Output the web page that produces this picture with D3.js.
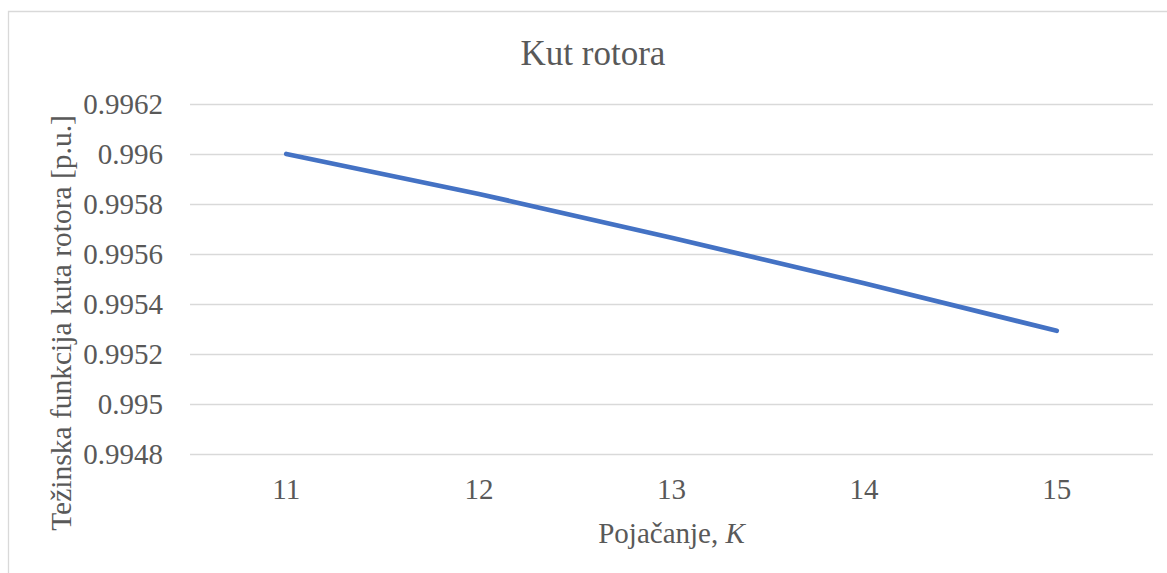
<!DOCTYPE html>
<html>
<head>
<meta charset="utf-8">
<script src="https://cdn.jsdelivr.net/npm/d3@7/dist/d3.min.js"></script>
<style>
  html, body { margin: 0; padding: 0; background: #fff; }
  svg { display: block; }
  svg text { fill: #595959; }
</style>
</head>
<body>
<svg id="chart" width="1167" height="573"></svg>
<script>
// Weighting function of rotor angle vs. gain K
const categories = ["11", "12", "13", "14", "15"];
const values = [0.99600, 0.99584, 0.995665, 0.995483, 0.995293];
const yTicks = [0.9948, 0.995, 0.9952, 0.9954, 0.9956, 0.9958, 0.996, 0.9962];
const yTickLabels = ["0.9948", "0.995", "0.9952", "0.9954", "0.9956", "0.9958", "0.996", "0.9962"];

const FONT = "'Liberation Serif', 'Tinos', 'Noto Serif', 'DejaVu Serif', 'FreeSerif', 'Nimbus Roman', 'Times New Roman', Times, serif";

const svg = d3.select("#chart");
const W = 1167, H = 573;
const plot = { left: 190, right: 1153, top: 104, bottom: 454 };

// Chart frame (only left and top edges fall inside the canvas)
svg.append("path")
  .attr("d", `M8.5,${H} L8.5,11.5 L${W},11.5`)
  .attr("fill", "none")
  .attr("stroke", "#D9D9D9")
  .attr("stroke-width", 1.3);

const x = d3.scaleBand().domain(categories).range([plot.left, plot.right]).paddingInner(0).paddingOuter(0);
const y = d3.scaleLinear().domain([0.9948, 0.9962]).range([plot.bottom, plot.top]);

// Horizontal gridlines
svg.append("g")
  .selectAll("line")
  .data(yTicks)
  .join("line")
  .attr("x1", plot.left).attr("x2", plot.right)
  .attr("y1", d => Math.round(y(d)) + 0.5).attr("y2", d => Math.round(y(d)) + 0.5)
  .attr("stroke", "#D9D9D9")
  .attr("stroke-width", 1.4);

// Y axis tick labels
const yAxis = d3.axisLeft(y)
  .tickValues(yTicks)
  .tickFormat((d, i) => yTickLabels[i])
  .tickSize(0)
  .tickPadding(27);
const gy = svg.append("g").attr("transform", `translate(${plot.left},0)`).call(yAxis)
  .attr("font-family", null);
gy.select(".domain").remove();
gy.selectAll("text")
  .style("font-family", FONT)
  .style("font-size", "29px")
  .attr("fill", "#595959")
  .attr("dy", "0.32em");

// X axis category labels
const xAxis = d3.axisBottom(x).tickSize(0).tickPadding(0);
const gx = svg.append("g").attr("transform", `translate(0,${plot.bottom})`).call(xAxis)
  .attr("font-family", null);
gx.select(".domain").remove();
gx.selectAll("text")
  .style("font-family", FONT)
  .style("font-size", "29px")
  .attr("fill", "#595959")
  .attr("y", 45)
  .attr("dy", 0);

// Data line
const line = d3.line()
  .x((d, i) => x(categories[i]) + x.bandwidth() / 2)
  .y(d => y(d));

svg.append("path")
  .datum(values)
  .attr("d", line)
  .attr("fill", "none")
  .attr("stroke", "#4472C4")
  .attr("stroke-width", 4.8)
  .attr("stroke-linecap", "round")
  .attr("stroke-linejoin", "round");

// Title
svg.append("text")
  .attr("x", 593)
  .attr("y", 65)
  .attr("text-anchor", "middle")
  .style("font-family", FONT)
  .style("font-size", "35px")
  .text("Kut rotora");

// X axis title
const xt = svg.append("text")
  .attr("x", (plot.left + plot.right) / 2)
  .attr("y", 543)
  .attr("text-anchor", "middle")
  .style("font-family", FONT)
  .style("font-size", "29px");
xt.append("tspan").text("Pojačanje, ");
xt.append("tspan").style("font-style", "italic").text("K");

// Y axis title
svg.append("text")
  .attr("transform", `translate(71,323) rotate(-90)`)
  .attr("text-anchor", "middle")
  .style("font-family", FONT)
  .style("font-size", "29.5px")
  .text("Težinska funkcija kuta rotora [p.u.]");
</script>
</body>
</html>
